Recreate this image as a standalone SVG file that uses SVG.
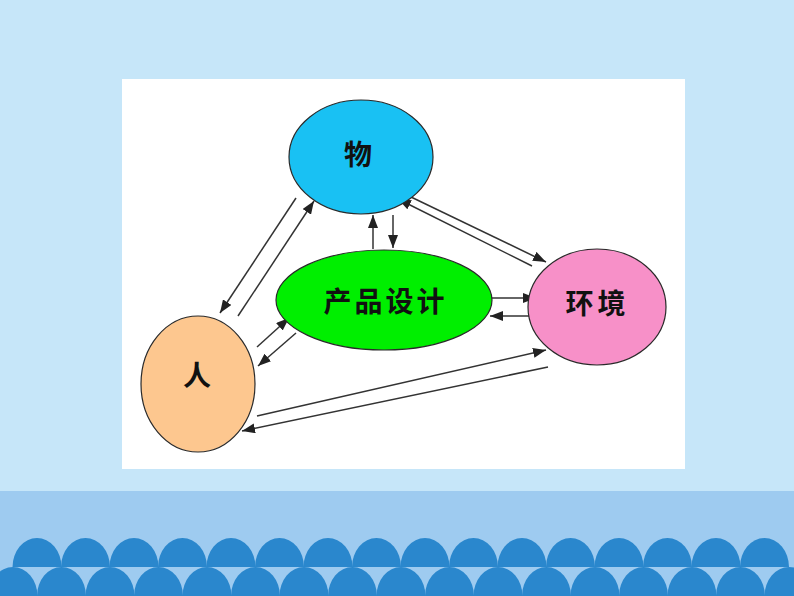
<svg xmlns="http://www.w3.org/2000/svg" width="794" height="596" viewBox="0 0 794 596">
  <defs>
    <style>
      .node { stroke: #2a2a2a; stroke-width: 1.2; }
      .lbl { font-family: "Noto Sans CJK SC", "Noto Sans", sans-serif; font-weight: 700; font-size: 28px; fill: #111; text-anchor: middle; }
      .con line { stroke: #333; stroke-width: 1.5; fill: none; marker-end: url(#ah); }
      .wave { fill: #2a87cd; }
    </style>
    <marker id="ah" markerUnits="userSpaceOnUse" markerWidth="14" markerHeight="10" refX="13" refY="5" orient="auto" viewBox="0 0 14 10">
      <path d="M0,0 L13,5 L0,10 z" fill="#222"/>
    </marker>
    <path id="arch" d="M-24.5,0 A24.5,29 0 0 1 24.5,0 z"/>
  </defs>

  <!-- background -->
  <rect x="0" y="0" width="794" height="596" fill="#c6e6f9"/>
  <rect x="0" y="491" width="794" height="105" fill="#9ecbf0"/>

  <!-- waves -->
  <g id="waves" class="wave">
    <use href="#arch" x="37" y="567"/>
    <use href="#arch" x="85.5" y="567"/>
    <use href="#arch" x="134" y="567"/>
    <use href="#arch" x="182.5" y="567"/>
    <use href="#arch" x="231" y="567"/>
    <use href="#arch" x="279.5" y="567"/>
    <use href="#arch" x="328" y="567"/>
    <use href="#arch" x="376.5" y="567"/>
    <use href="#arch" x="425" y="567"/>
    <use href="#arch" x="473.5" y="567"/>
    <use href="#arch" x="522" y="567"/>
    <use href="#arch" x="570.5" y="567"/>
    <use href="#arch" x="619" y="567"/>
    <use href="#arch" x="667.5" y="567"/>
    <use href="#arch" x="716" y="567"/>
    <use href="#arch" x="764.5" y="567"/>
    <use href="#arch" x="13" y="596"/>
    <use href="#arch" x="61.5" y="596"/>
    <use href="#arch" x="110" y="596"/>
    <use href="#arch" x="158.5" y="596"/>
    <use href="#arch" x="207" y="596"/>
    <use href="#arch" x="255.5" y="596"/>
    <use href="#arch" x="304" y="596"/>
    <use href="#arch" x="352.5" y="596"/>
    <use href="#arch" x="401" y="596"/>
    <use href="#arch" x="449.5" y="596"/>
    <use href="#arch" x="498" y="596"/>
    <use href="#arch" x="546.5" y="596"/>
    <use href="#arch" x="595" y="596"/>
    <use href="#arch" x="643.5" y="596"/>
    <use href="#arch" x="692" y="596"/>
    <use href="#arch" x="740.5" y="596"/>
    <use href="#arch" x="789" y="596"/>
  </g>

  <!-- white panel -->
  <rect x="122" y="79" width="563" height="390" fill="#ffffff"/>

  <!-- connectors -->
  <g id="connectors" class="con">
    <line x1="296" y1="198" x2="220" y2="313"/>
    <line x1="238" y1="316" x2="314" y2="201"/>
    <line x1="257" y1="347" x2="289" y2="318"/>
    <line x1="296" y1="333" x2="258" y2="366"/>
    <line x1="373" y1="249" x2="373" y2="215"/>
    <line x1="393" y1="215" x2="393" y2="248"/>
    <line x1="532" y1="266" x2="398" y2="199"/>
    <line x1="411" y1="197" x2="546" y2="262"/>
    <line x1="490" y1="298" x2="536" y2="298"/>
    <line x1="537" y1="316" x2="490" y2="316"/>
    <line x1="257" y1="416" x2="546" y2="350"/>
    <line x1="548" y1="367" x2="242" y2="431"/>
  </g>

  <!-- nodes -->
  <g id="node-wu">
    <ellipse class="node" cx="361" cy="157" rx="72" ry="57" fill="#19c1f3"/>
    <text class="lbl" x="358" y="165">物</text>
  </g>
  <g id="node-design">
    <ellipse class="node" cx="384" cy="300" rx="108" ry="50" fill="#00ef00"/>
    <text class="lbl" x="385.5" y="312" letter-spacing="3">产品设计</text>
  </g>
  <g id="node-env">
    <ellipse class="node" cx="597" cy="307" rx="69" ry="58" fill="#f790c8"/>
    <text class="lbl" x="597.5" y="314" letter-spacing="4">环境</text>
  </g>
  <g id="node-ren">
    <ellipse class="node" cx="198" cy="384" rx="57" ry="68" fill="#fdc78f"/>
    <text class="lbl" x="197" y="386">人</text>
  </g>
</svg>
